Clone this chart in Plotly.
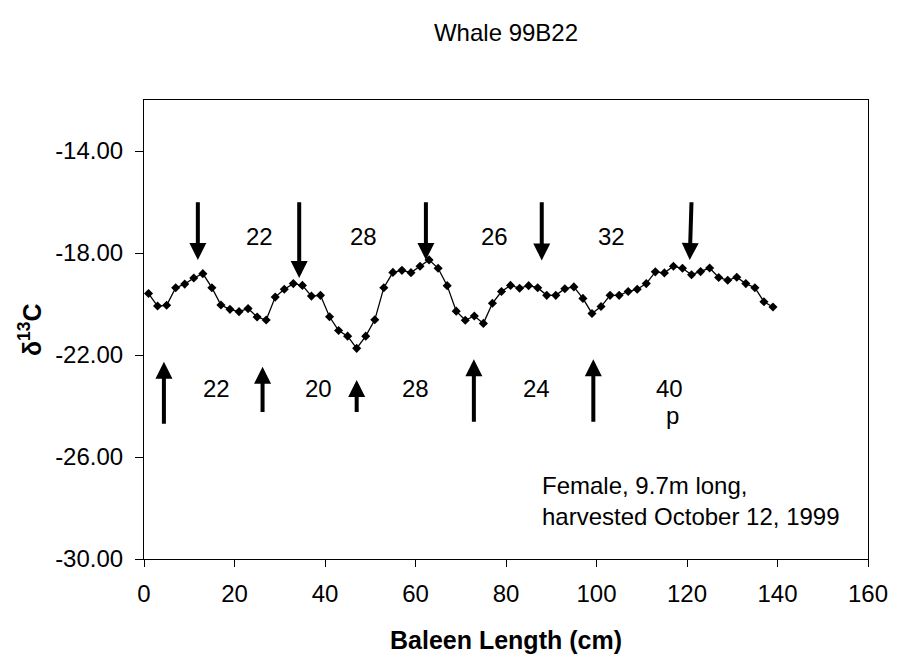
import plotly.graph_objects as go

# Baleen position (cm from base) and carbon isotope values
length_cm = [1, 3, 5, 7, 9, 11, 13, 15, 17, 19, 21, 23, 25, 27, 29, 31, 33, 35,
             37, 39, 41, 43, 45, 47, 49, 51, 53, 55, 57, 59, 61, 63, 65, 67, 69, 71,
             73, 75, 77, 79, 81, 83, 85, 87, 89, 91, 93, 95, 97, 99, 101, 103, 105, 107,
             109, 111, 113, 115, 117, 119, 121, 123, 125, 127, 129, 131, 133, 135, 137, 139]
d13c = [-19.59, -20.08, -20.05, -19.36, -19.22, -18.98, -18.81, -19.36, -20.04, -20.21,
        -20.30, -20.18, -20.51, -20.63, -19.73, -19.42, -19.20, -19.27, -19.69, -19.66,
        -20.50, -21.04, -21.26, -21.74, -21.26, -20.62, -19.36, -18.76, -18.68, -18.77,
        -18.52, -18.27, -18.60, -19.28, -20.28, -20.64, -20.47, -20.76, -19.97, -19.51,
        -19.27, -19.38, -19.28, -19.36, -19.66, -19.66, -19.40, -19.33, -19.78, -20.37,
        -20.10, -19.66, -19.66, -19.51, -19.42, -19.20, -18.74, -18.78, -18.52, -18.60,
        -18.85, -18.73, -18.59, -18.96, -19.07, -18.95, -19.20, -19.36, -19.91, -20.12]

# Down arrows above the curve: x of tail, x of tip, tail y, tip y
down_tail_x = [11.9, 34.3, 62.3, 87.9, 121.0]
down_tip_x = [11.9, 34.3, 62.3, 87.9, 120.6]
down_tail_y = [-15.95, -15.95, -15.95, -15.95, -15.95]
down_tip_y = [-18.27, -18.98, -18.27, -18.29, -18.27]

# Up arrows below the curve
up_x = [4.4, 26.2, 47.0, 72.9, 99.3]
up_tail_y = [-24.75, -24.29, -24.29, -24.68, -24.68]
up_tip_y = [-22.26, -22.46, -22.98, -22.17, -22.17]

# Interval labels between arrows
top_labels = ["22", "28", "26", "32"]
top_label_x = [25.5, 48.4, 77.4, 103.3]
top_label_y = -17.36
bottom_labels = ["22", "20", "28", "24", "40"]
bottom_label_x = [16.1, 38.6, 59.9, 86.7, 116.2]
bottom_label_y = -23.31

x_ticks = [0, 20, 40, 60, 80, 100, 120, 140, 160]
y_ticks = [-30, -26, -22, -18, -14]
y_tick_text = ["-30.00", "-26.00", "-22.00", "-18.00", "-14.00"]

FONT = "Liberation Sans, Arial, sans-serif"

fig = go.Figure()
fig.add_trace(go.Scatter(
    x=length_cm, y=d13c, mode="lines+markers",
    line=dict(color="black", width=1.3),
    marker=dict(symbol="diamond", size=7, color="black"),
    showlegend=False, hoverinfo="skip",
))

annotations = []
for tx, hx, ty, hy in zip(down_tail_x, down_tip_x, down_tail_y, down_tip_y):
    annotations.append(dict(
        x=hx, y=hy, ax=tx, ay=ty, xref="x", yref="y", axref="x", ayref="y",
        text="", showarrow=True, arrowhead=2, arrowsize=0.85, arrowwidth=4,
        arrowcolor="black", standoff=0,
    ))
for ux, ty, hy in zip(up_x, up_tail_y, up_tip_y):
    annotations.append(dict(
        x=ux, y=hy, ax=ux, ay=ty, xref="x", yref="y", axref="x", ayref="y",
        text="", showarrow=True, arrowhead=2, arrowsize=0.85, arrowwidth=4,
        arrowcolor="black", standoff=0,
    ))
for lab, lx in zip(top_labels, top_label_x):
    annotations.append(dict(x=lx, y=top_label_y, xref="x", yref="y", text=lab,
                            showarrow=False, font=dict(family=FONT, size=24, color="black")))
for lab, lx in zip(bottom_labels, bottom_label_x):
    annotations.append(dict(x=lx, y=bottom_label_y, xref="x", yref="y", text=lab,
                            showarrow=False, font=dict(family=FONT, size=24, color="black")))
annotations.append(dict(x=116.8, y=-24.36, xref="x", yref="y", text="p",
                        showarrow=False, font=dict(family=FONT, size=24, color="black")))

# Specimen note
annotations.append(dict(
    x=87.6, y=-27.73, xref="x", yref="y", xanchor="left", yanchor="middle", align="left",
    text="Female, 9.7m long,<br>harvested October 12, 1999", showarrow=False,
    font=dict(family=FONT, size=24, color="black"),
))

# Axis titles
annotations.append(dict(
    x=0.5, y=-0.177, xref="paper", yref="paper", xanchor="center", yanchor="middle",
    text="<b>Baleen Length (cm)</b>", showarrow=False,
    font=dict(family=FONT, size=25, color="black"),
))
annotations.append(dict(
    x=-0.158, y=0.5, xref="paper", yref="paper", xanchor="center", yanchor="middle",
    text="<b>δ<sup>13</sup>C</b>", showarrow=False, textangle=-90,
    font=dict(family=FONT, size=25, color="black"),
))

fig.update_layout(
    width=900, height=657,
    margin=dict(l=144, r=24, t=100, b=98),
    paper_bgcolor="white", plot_bgcolor="white",
    title=dict(text="Whale 99B22", x=0.5, xanchor="center", xref="paper",
               y=1 - 33 / 657, yref="container", yanchor="middle",
               font=dict(family=FONT, size=24, color="black")),
    font=dict(family=FONT, size=24, color="black"),
    annotations=annotations,
    xaxis=dict(range=[0, 160], tickvals=x_ticks, ticks="outside", ticklen=7,
               tickcolor="black", showline=True, linecolor="black", linewidth=1,
               mirror=True, showgrid=False, zeroline=False, ticklabelstandoff=6,
               tickfont=dict(family=FONT, size=24, color="black")),
    yaxis=dict(range=[-30, -12], tickvals=y_ticks, ticktext=y_tick_text, ticks="outside",
               ticklen=8, tickcolor="black", showline=True, linecolor="black",
               linewidth=1, mirror=True, showgrid=False, zeroline=False,
               ticklabelstandoff=7,
               tickfont=dict(family=FONT, size=24, color="black")),
)

fig.write_html("out.html")
